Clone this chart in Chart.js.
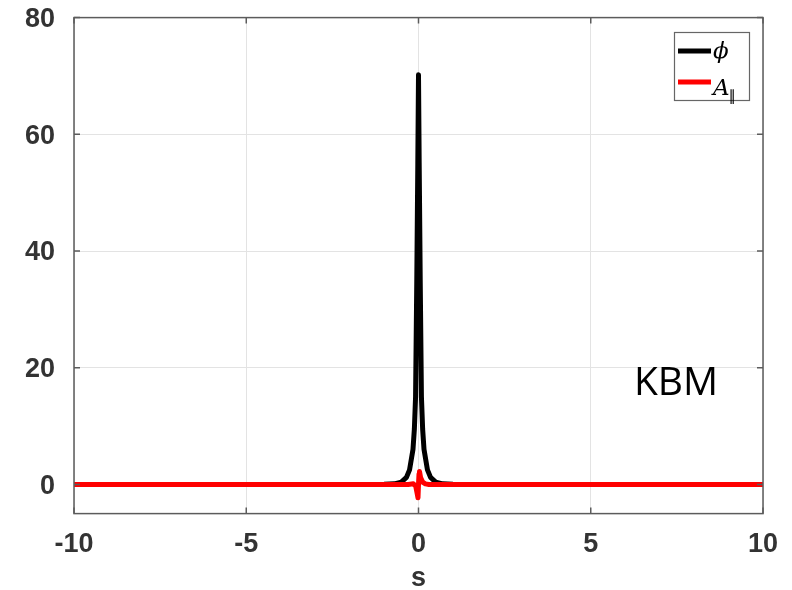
<!DOCTYPE html>
<html>
<head>
<meta charset="utf-8">
<script src="https://cdn.jsdelivr.net/npm/chart.js@4/dist/chart.umd.min.js"></script>
<style>
  html, body { margin: 0; padding: 0; background: #ffffff; }
  #wrap { width: 792px; height: 590px; }
</style>
</head>
<body>
<div id="wrap"><canvas id="c" width="792" height="590"></canvas></div>
<script>
// Electrostatic potential phi along the field line coordinate s
const sPhi = [-10, -1, -0.7, -0.5, -0.35, -0.26, -0.16, -0.12, -0.085, -0.05, -0.02, 0,
              0.02, 0.05, 0.085, 0.12, 0.16, 0.26, 0.35, 0.5, 0.7, 1, 10];
const phiValues = [0, 0.03, 0.1, 0.4, 1.2, 2.5, 6, 9.5, 15, 35, 55, 70.2,
                   55, 35, 15, 9.5, 6, 2.5, 1.2, 0.4, 0.1, 0.03, 0];

// Parallel vector potential A_parallel
const sApar = [-10, -0.3, -0.15, -0.08, -0.04, -0.015, 0, 0.015, 0.03, 0.06, 0.12, 0.2, 0.3, 10];
const aparValues = [0, 0, 0.1, -0.3, -1.5, -2.3, 0, 1.8, 2.2, 1.2, 0.4, 0.1, 0, 0];

// Axis ticks
const xTicks = [-10, -5, 0, 5, 10];
const yTicks = [0, 20, 40, 60, 80];

const seriesNames = [{ main: 'ϕ', sub: '' }, { main: 'A', sub: '∥' }];
const annotationText = 'KBM';

const toPoints = (xs, ys) => xs.map((x, i) => ({ x: x, y: ys[i] }));

const tickFont = { family: '"Liberation Sans", Arial, Helvetica, sans-serif', size: 27, weight: 'bold' };
const tickColor = '#333333';
const gridColor = '#e3e3e3';
const frameColor = '#5c5c5c';

// Frame, inward tick marks, legend box and the mode label
const decorations = {
  id: 'decorations',
  afterDraw(chart) {
    const ctx = chart.ctx;
    const a = chart.chartArea;
    const xs = chart.scales.x, ys = chart.scales.y;
    ctx.save();
    ctx.strokeStyle = frameColor;
    ctx.lineWidth = 1.5;
    ctx.strokeRect(a.left, a.top, a.right - a.left, a.bottom - a.top);
    ctx.beginPath();
    xTicks.forEach(v => {
      const px = xs.getPixelForValue(v);
      ctx.moveTo(px, a.bottom); ctx.lineTo(px, a.bottom - 6);
      ctx.moveTo(px, a.top); ctx.lineTo(px, a.top + 6);
    });
    yTicks.forEach(v => {
      const py = ys.getPixelForValue(v);
      ctx.moveTo(a.left, py); ctx.lineTo(a.left + 6, py);
      ctx.moveTo(a.right, py); ctx.lineTo(a.right - 6, py);
    });
    ctx.stroke();

    // legend
    const lx = 674, ly = 32, lw = 75, lh = 68;
    ctx.fillStyle = '#ffffff';
    ctx.fillRect(lx, ly, lw, lh);
    ctx.strokeStyle = '#666666';
    ctx.lineWidth = 1.2;
    ctx.strokeRect(lx + 0.5, ly + 0.5, lw, lh);
    const rowsY = [51, 82];
    chart.data.datasets.forEach((ds, i) => {
      const y = rowsY[i];
      ctx.strokeStyle = ds.borderColor;
      ctx.lineWidth = 5;
      ctx.lineCap = 'butt';
      ctx.beginPath();
      ctx.moveTo(678, y); ctx.lineTo(711, y);
      ctx.stroke();
      const name = seriesNames[i];
      ctx.fillStyle = '#000000';
      ctx.textBaseline = 'alphabetic';
      ctx.textAlign = 'left';
      ctx.font = 'italic 23px "DejaVu Serif", "Liberation Serif", serif';
      const baseY = i === 0 ? 58 : 95;
      ctx.fillText(name.main, 713, baseY);
      if (name.sub) {
        const w = ctx.measureText(name.main).width;
        ctx.font = '15px "DejaVu Sans", sans-serif';
        ctx.fillText(name.sub, 713 + w - 1, 101);
      }
    });

    // mode label
    ctx.fillStyle = '#000000';
    ctx.font = '39px "Open Sans", "Noto Sans", sans-serif';
    ctx.textAlign = 'center';
    ctx.textBaseline = 'middle';
    ctx.fillText(annotationText, 676, 384);
    ctx.restore();
  }
};

new Chart(document.getElementById('c'), {
  type: 'line',
  data: {
    datasets: [
      {
        label: 'phi',
        data: toPoints(sPhi, phiValues),
        borderColor: '#000000',
        borderWidth: 5,
        pointRadius: 0,
        tension: 0,
        borderJoinStyle: 'round',
        order: 1
      },
      {
        label: 'A_par',
        data: toPoints(sApar, aparValues),
        borderColor: '#ff0000',
        borderWidth: 5,
        pointRadius: 0,
        tension: 0,
        borderJoinStyle: 'round',
        order: 0
      }
    ]
  },
  options: {
    responsive: false,
    animation: false,
    devicePixelRatio: 1,
    layout: { padding: { left: 0, top: 17.6, right: 29, bottom: 0 } },
    plugins: { legend: { display: false }, tooltip: { enabled: false } },
    scales: {
      x: {
        type: 'linear',
        min: -10, max: 10,
        afterBuildTicks: s => { s.ticks = xTicks.map(v => ({ value: v })); },
        afterFit: s => { s.height = 76.4; s.paddingLeft = 0; s.paddingRight = 0; },
        grid: { color: gridColor, lineWidth: 1, drawTicks: false },
        border: { display: false },
        ticks: { font: tickFont, color: tickColor, padding: 15, maxRotation: 0 },
        title: {
          display: true, text: 's',
          font: { family: tickFont.family, size: 27, weight: 'bold', lineHeight: 0.85 },
          color: tickColor,
          padding: { top: 0, bottom: 0 }
        }
      },
      y: {
        min: -5, max: 80,
        afterBuildTicks: s => { s.ticks = yTicks.map(v => ({ value: v })); },
        afterFit: s => { s.width = 74; s.paddingTop = 0; s.paddingBottom = 0; },
        grid: { color: gridColor, lineWidth: 1, drawTicks: false },
        border: { display: false },
        ticks: { font: tickFont, color: tickColor, padding: 19, labelOffset: 2 }
      }
    }
  },
  plugins: [decorations]
});
</script>
</body>
</html>
